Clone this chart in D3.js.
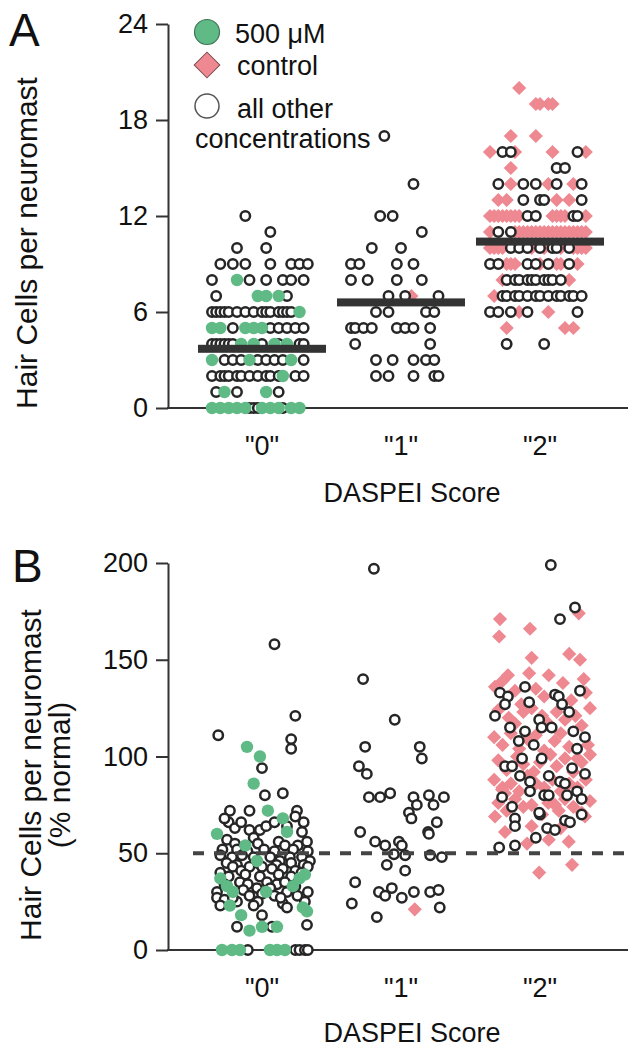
<!DOCTYPE html>
<html>
<head>
<meta charset="utf-8">
<script src="https://cdn.jsdelivr.net/npm/d3@7"></script>
<style>
  body { margin: 0; background: #fff; }
  text { font-family: "Liberation Sans", Arial, sans-serif; fill: #111; }
</style>
</head>
<body>
<svg id="chart" width="628" height="1047"></svg>
<script>
// ---- data ----
const categories = ['"0"', '"1"', '"2"']
const ticksA = [0, 6, 12, 18, 24]
const ticksB = [0, 50, 100, 150, 200]
const meansA = [3.7, 6.6, 10.4]
const normalPct = 50

// panel A: [hair cells, "group+jitterSlot ..."]  o = other conc., g = 500 uM, c = control
const rowsA0 = [
  [12, 'o8'], [11, 'o14'], [10, 'o6 o13'],
  [9, 'o2 o5 o8 o14 o19 o21 o23'],
  [8, 'o0 g6 o9 o13 o17 o19 o22'],
  [7, 'o1 g11 g13 g16 o18'],
  [6, 'o0 o1 o2 o3 o4 o6 o8 o10 o12 o13 o14 o16 o17 o18 o19 g21'],
  [5, 'g0 g2 o5 g8 g10 g12 o14 o16 o18 o20 o22'],
  [4, 'o0 o1 o2 o3 o4 o5 g7 g10 o12 g15 o16 g18 o21 o22'],
  [3, 'g0 o3 o5 o7 g9 o11 o13 o15 o17 g19 o22'],
  [2, 'o0 o2 o3 o4 o6 o7 o9 o11 o13 o14 o16 g17 o20 o22'],
  [1, 'o1 g3 o6 g13 o16'],
  [0, 'g0 g2 g4 g6 g8 o9 o10 o11 g12 g14 g16 o17 g19 g21']
]
const rowsA1 = [
  [17, 'o8'], [14, 'o15'], [12, 'o7 o10'], [11, 'o17'], [10, 'o5 o12'],
  [9, 'o0 o2 o11 o15'], [8, 'o0 o4 o11 o17'], [7, 'o9 c14.5 o13 o21'],
  [6, 'o6 o9 o18 o20'], [5, 'o0 o1 o3 o5 o11 o13 o15 o19'], [4, 'o1 o19'],
  [3, 'o6 o10 o15 o18 o20'], [2, 'o6 o9 o15 o20 o21']
]
const rowsA2 = [
  [20, 'c7'], [19, 'c11 c12 c14 c15'], [17, 'c5 c11'],
  [16, 'c0 o3 o5 c6 c15 o21 c23'],
  [15, 'c5 o16 o18'],
  [14, 'o2 c5 o8 o11 c14 o16 c20 o22'],
  [13, 'c2 c4 o8 o12 o13 c16 c19 o22'],
  [12, 'c0 c1 c2 c3 c4 c5 c6 c7 o9 o11 c15 c16 c17 c18 o20 o21 c23'],
  [11, 'c0 o2 o5 c6 c7 c8 c9 c10 c11 c12 c13 c14 c15 c16 c17 c18 c19 c20 c21 c22 c23'],
  [10, 'c0 c1 c2 c3 o5 o7 o9 c10 o12 c13 o15 o16 c17 o19 c20 c21 c22 c23'],
  [9, 'o0 o2 c4 c5 c6 o9 o11 c12 o14 c16 c17 o19 c21'],
  [8, 'c3 o4 o6 o7 o9 o10 o11 o13 o14 o15 o17 c19'],
  [7, 'c1 o3 o4 o6 o7 o9 o11 o12 o14 o16 o17 o19 o20 o22'],
  [6, 'o0 o2 o5 c7 o9 c14 o21'],
  [5, 'c4 c18 c20'],
  [4, 'o4 o13']
]

// panel B: [jitterSlot, % normal, group]
const pointsB0 = [
  [15,158,'o'],[20,121,'o'],[1.5,111,'o'],[19,109,'o'],[19,104,'o'],[12,94,'o'],[12.7,80,'o'],[17,81,'o'],
  [4.3,72,'o'],[9,72,'o'],[20.4,72,'o'],[20,69,'o'],[4,66,'o'],[5.5,63,'o'],[9,62,'o'],[11.5,62,'o'],[21.6,61,'o'],
  [3,68,'o'],[7,66,'o'],[13,64,'o'],[15,66,'o'],[18,64,'o'],[22,66,'o'],
  [3.6,57,'o'],[5.5,55,'o'],[10,58,'o'],[11,55,'o'],[16,56,'o'],[17.5,54,'o'],[20.6,54,'o'],[22.8,56,'o'],
  [2.5,52,'o'],[6,52,'o'],[8.5,51,'o'],[12.5,52,'o'],[15,51,'o'],[19.5,52,'o'],[23,51,'o'],
  [2,49,'o'],[4.8,48,'o'],[7.2,49,'o'],[10,48,'o'],[14,48,'o'],[16.3,46,'o'],[18.7,48,'o'],[21.6,48,'o'],[23.5,46,'o'],
  [3.5,45,'o'],[6,44,'o'],[11,45,'o'],[15.5,44,'o'],[19,45,'o'],[22,44,'o'],
  [5,43,'o'],[7,41,'o'],[9,43,'o'],[12,43,'o'],[14.4,42,'o'],[17,42,'o'],[20,41,'o'],[23,43,'o'],
  [2,40,'o'],[4,38,'o'],[8,39,'o'],[11.5,38,'o'],[16,39,'o'],[19,38,'o'],[21.5,40,'o'],
  [1.2,30,'o'],[6.7,35,'o'],[8.6,34,'o'],[10.8,32,'o'],[13.2,35,'o'],[15.6,34,'o'],[17.5,35,'o'],[18,30,'o'],
  [3,34,'o'],[7.5,31,'o'],[12,29,'o'],[14,32,'o'],[20,33,'o'],[23,30,'o'],
  [1.2,27,'o'],[3,26,'o'],[6,25,'o'],[9,28,'o'],[15,28,'o'],[17,24,'o'],[5,27,'o'],[11,25,'o'],[16.5,27,'o'],[20.5,28,'o'],
  [2,23,'o'],[10,23,'o'],[12,18,'o'],[18,22,'o'],[22.3,25,'o'],[22.8,13,'o'],[6,12,'o'],[14.4,12,'o'],
  [8.6,0,'o'],[20,0,'o'],[21,0,'o'],[22.3,0,'o'],[23,0,'o'],
  [8.4,105,'g'],[11.5,100,'g'],[10,86,'g'],[13.4,72,'g'],[17,68,'g'],[1.2,60,'g'],[18,61,'g'],[8,54,'g'],
  [10.8,46,'g'],[2,37,'g'],[3.6,33,'g'],[5,30,'g'],[19.4,33,'g'],[21,37,'g'],[22.3,39,'g'],[13,30,'g'],
  [4.3,23,'g'],[7,18,'g'],[21.8,22,'g'],[22.8,20,'g'],[9,10,'g'],[12,12,'g'],[15.6,12,'g'],
  [2.4,0,'g'],[4.8,0,'g'],[6.7,0,'g'],[13.9,0,'g'],[15.6,0,'g'],[17.5,0,'g']
]
const pointsB1 = [
  [5.5,197,'o'],[2.9,140,'o'],[10.5,119,'o'],[3.4,105,'o'],[16.5,105,'o'],[17,99,'o'],[1.9,95,'o'],[3.8,91,'o'],
  [4.3,79,'o'],[7,79,'o'],[9.4,81,'o'],[15,79,'o'],[18.7,80,'o'],[22.3,79,'o'],[15.8,75,'o'],[19.8,75,'o'],
  [20.6,66,'o'],[13.9,71,'o'],[14.5,68,'o'],[2.2,61,'o'],[18.5,61,'o'],[18.7,60,'o'],
  [5.8,56,'o'],[8.2,54,'o'],[11.5,56,'o'],[12.2,54,'o'],[10.3,49.5,'o'],[13,49,'o'],[19,49,'o'],[21.8,48,'o'],
  [8.6,44,'o'],[13,41,'o'],[1,35,'o'],[6.7,30,'o'],[9.8,32,'o'],[8.2,28,'o'],[12.2,27,'o'],[15.1,30,'o'],
  [19,30,'o'],[21,31,'o'],[0.2,24,'o'],[21.3,22,'o'],[6.2,17,'o'],
  [15.3,21,'c']
]
const pointsB2 = [
  [2.4,171,'c'],[2.2,162,'c'],[9.6,166,'c'],[19,153,'c'],[21.6,150,'c'],[10,151,'c'],[21.3,174,'c'],
  [4.3,142,'c'],[9.4,143,'c'],[14.1,142,'c'],[22.5,140,'c'],[1.2,136,'c'],
  [3,139,'c'],[6,134,'c'],[11,135,'c'],[13,131,'c'],[17.5,138,'c'],[19.5,129,'c'],[23,133,'c'],[7.5,127,'c'],
  [2,124,'c'],[4.5,120,'c'],[6,117,'c'],[8,123,'c'],[10,125,'c'],[12.5,121,'c'],[14,117,'c'],[16,123,'c'],
  [18,119,'c'],[20.5,121,'c'],[22,116,'c'],[24,125,'c'],
  [1,110,'c'],[3,106,'c'],[5,112,'c'],[7,104,'c'],[9,109,'c'],[11,111,'c'],[13,103,'c'],[15.5,108,'c'],
  [17,112,'c'],[19,105,'c'],[21,99,'c'],[23.5,106,'c'],
  [2,98,'c'],[4,93,'c'],[6.5,100,'c'],[8,96,'c'],[10.5,92,'c'],[12,97,'c'],[14.5,101,'c'],[16,95,'c'],
  [18,99,'c'],[20,92,'c'],[22,97,'c'],[24,101,'c'],
  [1,88,'c'],[3,84,'c'],[5,86,'c'],[7,82,'c'],[9,90,'c'],[11,86,'c'],[13,84,'c'],[15,88,'c'],
  [17,82,'c'],[19,86,'c'],[21,84,'c'],[23,88,'c'],
  [2,76,'c'],[4,72,'c'],[6,78,'c'],[8,74,'c'],[10,75,'c'],[12.5,70,'c'],[14,76,'c'],[16.5,72,'c'],
  [18,78,'c'],[20,74,'c'],[22,71,'c'],[24,77,'c'],
  [3.6,81,'c'],[1.2,69,'c'],[3.6,61,'c'],[8.9,55,'c'],[14.1,57,'c'],[18.9,56,'c'],[11.8,40,'c'],
  [19.7,44,'c'],[15.6,75,'c'],[22.8,69,'c'],[2.9,83,'c'],[10,64,'c'],[17,63,'c'],
  [14.6,199,'o'],[20.4,177,'o'],[16.8,171,'o'],[8.4,136,'o'],[2.4,133,'o'],[4.3,131,'o'],[3.6,127,'o'],
  [9.4,128,'o'],[15.6,132,'o'],[16.5,131,'o'],[17.3,127,'o'],[19,123,'o'],[21.6,134,'o'],[1.2,121,'o'],
  [4.8,115,'o'],[11.8,119,'o'],[12.4,115,'o'],[14.8,115,'o'],[8.4,113,'o'],[6.9,108,'o'],[10.5,106,'o'],
  [7.7,99,'o'],[12.4,99,'o'],[20,113,'o'],[22.8,110,'o'],[20.9,104,'o'],[3.6,95,'o'],[5.3,95,'o'],
  [14.1,90,'o'],[16.8,87,'o'],[18,86,'o'],[19.7,94,'o'],[22.8,91,'o'],[7.2,90,'o'],[9.6,87,'o'],[9.6,82,'o'],
  [13,80,'o'],[14.1,80,'o'],[18.5,80,'o'],[20.9,82,'o'],[22,78,'o'],[2.9,79,'o'],[5.3,74,'o'],[6,68,'o'],
  [12,70,'o'],[18,67,'o'],[19.2,66,'o'],[22,70,'o'],[6,64,'o'],[11.8,71,'o'],[13.7,63,'o'],[15.6,62,'o'],
  [11,58,'o'],[2.2,53,'o'],[6,54,'o']
]

// ---- layout ----
const svg = d3.select('#chart')
const axisX = 168, rightEdge = 628
const x = d3.scalePoint().domain(categories).range([262, 540])
const jitter = d3.scaleLinear().domain([0, 24]).range([-50, 50])
const yA = d3.scaleLinear().domain([0, 24]).range([408, 24])
const yB = d3.scaleLinear().domain([0, 200]).range([950, 563])

const colors = { g: '#5fba85', c: '#ee8891', o: '#fff' }
const order = { c: 0, o: 1, g: 2 }

function parseRows(rows, cat) {
  return rows.flatMap(function(r) {
    return r[1].split(' ').map(function(t) {
      return { cat: cat, v: r[0], group: t[0], k: +t.slice(1) }
    })
  })
}
function toPoints(list, cat) {
  return list.map(function(p) { return { cat: cat, k: p[0], v: p[1], group: p[2] } })
}

function drawPoints(g, data, y) {
  data.sort(function(a, b) { return order[a.group] - order[b.group] })
  var px = function(d) { return x(d.cat) + jitter(d.k) }
  data.forEach(function(d) {
    if (d.group === 'c') {
      g.append('path')
        .attr('d', d3.symbol(d3.symbolSquare, 100)())
        .attr('transform', 'translate(' + px(d) + ',' + y(d.v) + ') rotate(45)')
        .attr('fill', colors.c)
    } else if (d.group === 'g') {
      g.append('circle').attr('cx', px(d)).attr('cy', y(d.v)).attr('r', 6.2).attr('fill', colors.g)
    } else {
      g.append('circle').attr('cx', px(d)).attr('cy', y(d.v)).attr('r', 4.7)
        .attr('fill', '#fff').attr('stroke', '#262626').attr('stroke-width', 2.5)
    }
  })
}

function drawAxes(y, ticks, y0, titleLines, titleY, scoreY) {
  var ax = svg.append('g').attr('transform', 'translate(' + axisX + ',0)')
    .call(d3.axisLeft(y).tickValues(ticks).tickSize(12).tickSizeOuter(0).tickPadding(8))
  ax.selectAll('path, line').attr('stroke', '#333').attr('stroke-width', 2)
  ax.selectAll('text').attr('font-size', 27).attr('fill', '#111')
    .style('font-family', '"Liberation Sans", Arial, sans-serif')

  svg.append('line').attr('x1', axisX - 1).attr('x2', rightEdge).attr('y1', y0).attr('y2', y0)
    .attr('stroke', '#333').attr('stroke-width', 2)

  svg.append('g').selectAll('text').data(categories).enter().append('text')
    .attr('x', function(d) { return x(d) }).attr('y', y0 + 47)
    .attr('text-anchor', 'middle').attr('font-size', 27).text(function(d) { return d })

  svg.append('text').attr('x', 412).attr('y', scoreY).attr('text-anchor', 'middle')
    .attr('font-size', 27).text('DASPEI Score')

  titleLines.forEach(function(t, i) {
    svg.append('text').attr('text-anchor', 'middle').attr('font-size', 30)
      .attr('transform', 'translate(' + t.x + ',' + titleY + ') rotate(-90)').text(t.text)
  })
}

// ---- panel A ----
drawAxes(yA, ticksA, yA(0), [{ x: 37, text: 'Hair Cells per neuromast' }], 243, 502)
svg.append('text').attr('x', 9).attr('y', 46).attr('font-size', 46).text('A')

var gA = svg.append('g')
drawPoints(gA, parseRows(rowsA0, categories[0])
  .concat(parseRows(rowsA1, categories[1]))
  .concat(parseRows(rowsA2, categories[2])), yA)

svg.append('g').selectAll('rect').data(meansA).enter().append('rect')
  .attr('x', function(d, i) { return x(categories[i]) - 64 }).attr('width', 128)
  .attr('y', function(d) { return yA(d) - 4 }).attr('height', 8).attr('fill', '#333')

// legend
var lg = svg.append('g')
lg.append('circle').attr('cx', 207).attr('cy', 32).attr('r', 12.5)
  .attr('fill', colors.g).attr('stroke', '#3f7656').attr('stroke-width', 1.2)
lg.append('path').attr('d', d3.symbol(d3.symbolSquare, 330)())
  .attr('transform', 'translate(207,65) rotate(45)')
  .attr('fill', colors.c).attr('stroke', '#7a4b50').attr('stroke-width', 1)
lg.append('circle').attr('cx', 207).attr('cy', 106).attr('r', 12)
  .attr('fill', '#fff').attr('stroke', '#555').attr('stroke-width', 1.5)
lg.append('text').attr('x', 235).attr('y', 43).attr('font-size', 27).text('500 \u03BCM')
lg.append('text').attr('x', 237).attr('y', 75).attr('font-size', 27).text('control')
lg.append('text').attr('x', 237).attr('y', 118).attr('font-size', 27).text('all other')
lg.append('text').attr('x', 195).attr('y', 148).attr('font-size', 27).text('concentrations')

// ---- panel B ----
drawAxes(yB, ticksB, yB(0), [
  { x: 41, text: 'Hair Cells per neuromast' },
  { x: 70, text: '(% normal)' }
], 775, 1042)
svg.append('text').attr('x', 12).attr('y', 582).attr('font-size', 46).text('B')

var gB = svg.append('g')
drawPoints(gB, toPoints(pointsB0, categories[0])
  .concat(toPoints(pointsB1, categories[1]))
  .concat(toPoints(pointsB2, categories[2])), yB)

svg.append('line').attr('x1', 193).attr('x2', rightEdge)
  .attr('y1', yB(normalPct)).attr('y2', yB(normalPct))
  .attr('stroke', '#444').attr('stroke-width', 4).attr('stroke-dasharray', '11 10')
</script>
</body>
</html>
